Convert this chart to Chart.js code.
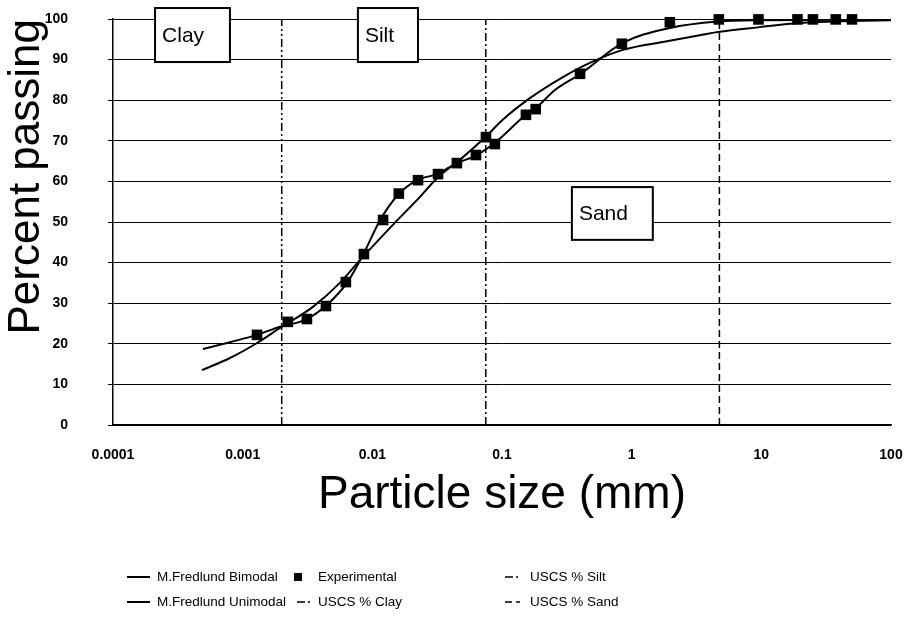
<!DOCTYPE html>
<html>
<head>
<meta charset="utf-8">
<title>Grain size distribution</title>
<script src="https://cdn.jsdelivr.net/npm/chart.js@4.4.1/dist/chart.umd.min.js"></script>
<style>
  html, body { margin: 0; padding: 0; background: #fff; }
  #wrap { position: relative; width: 909px; height: 630px; }
  #legend { position: absolute; left: 0; top: 0; width: 909px; height: 630px; pointer-events: none;
            font: 13.5px "Liberation Sans", Arial, sans-serif; color: #000; }
  .lg-sample { position: absolute; }
  .lg-text { position: absolute; white-space: nowrap; line-height: 16px; }
</style>
</head>
<body>
<div id="wrap">
  <canvas id="chart" width="909" height="630"></canvas>
  <div id="legend"></div>
</div>
<script>
// particle size (mm) and percent passing
const bimodalSize = [0.000494, 0.000798, 0.00129, 0.00194, 0.00313, 0.00447, 0.00637, 0.00847, 0.0115, 0.0158,
  0.0221, 0.0315, 0.0449, 0.064, 0.0881, 0.153, 0.182, 0.256, 0.413, 0.84, 1.97, 4.62, 9.73, 100];
const bimodalPass = [18.7, 20.4, 22.2, 24.2, 26.1, 29.6, 35.0, 41.9, 50.5, 56.7,
  60.3, 61.8, 64.5, 66.5, 69.5, 76.4, 78.0, 82.5, 86.7, 94.0, 97.8, 99.4, 99.7, 99.8];

const unimodalSize = [0.000485, 0.000798, 0.00129, 0.00194, 0.00348, 0.00562, 0.00802, 0.0144, 0.0233, 0.0315,
  0.0473, 0.0766, 0.0998, 0.164, 0.295, 0.476, 0.855, 1.87, 3.35, 4.62, 9.73, 19.8, 49.5, 100];
const unimodalPass = [13.5, 16.5, 20.2, 23.9, 29.1, 35.0, 40.6, 49.3, 56.2, 60.8,
  65.3, 71.3, 75.0, 80.5, 85.7, 89.2, 92.4, 94.5, 96.0, 96.8, 98.0, 99.0, 99.5, 99.7];

const expSize = [0.00129, 0.00223, 0.00313, 0.00439, 0.00625, 0.00861, 0.0121, 0.016, 0.0225, 0.0321,
  0.0449, 0.063, 0.0752, 0.0881, 0.153, 0.182, 0.40, 0.84, 1.97, 4.7, 9.5, 19, 25, 37.5, 50];
const expPass = [22.2, 25.4, 26.1, 29.3, 35.2, 42.1, 50.5, 57.0, 60.3, 61.8,
  64.5, 66.5, 70.9, 69.2, 76.4, 77.8, 86.5, 93.9, 99.2, 99.9, 99.9, 99.9, 99.9, 99.9, 99.9];

// USCS boundaries (mm)
const clayLimit = 0.002;
const siltLimit = 0.075;
const sandLimit = 4.75;

const xTickValues = [0.0001, 0.001, 0.01, 0.1, 1, 10, 100];
const xTickLabels = ['0.0001', '0.001', '0.01', '0.1', '1', '10', '100'];

const zoneNames = ['Clay', 'Silt', 'Sand'];

// zone label boxes, corners in axis units (mm, %)
const zoneBoxes = [
  { x0: 0.000211, x1: 0.000798, y0: 102.7, y1: 89.4 },
  { x0: 0.00774, x1: 0.0225, y0: 102.7, y1: 89.4 },
  { x0: 0.346, x1: 1.456, y0: 58.6, y1: 45.6 }
];

const FONT = '"Liberation Sans", Arial, sans-serif';

function pts(xs, ys) {
  return xs.map((x, i) => ({ x: x, y: ys[i] }));
}

function vline(x) {
  return [{ x: x, y: 0 }, { x: x, y: 100 }];
}

const zoneLabels = {
  id: 'zoneLabels',
  afterDraw(chart) {
    const { ctx, scales: { x, y } } = chart;
    ctx.save();
    zoneBoxes.forEach((b, i) => {
      const l = x.getPixelForValue(b.x0), r = x.getPixelForValue(b.x1);
      const t = y.getPixelForValue(b.y0), btm = y.getPixelForValue(b.y1);
      ctx.fillStyle = '#fff';
      ctx.fillRect(l, t, r - l, btm - t);
      ctx.strokeStyle = '#000';
      ctx.lineWidth = 2;
      ctx.strokeRect(l, t, r - l, btm - t);
      ctx.fillStyle = '#000';
      ctx.font = '21px ' + FONT;
      ctx.textAlign = 'left';
      ctx.textBaseline = 'middle';
      ctx.fillText(zoneNames[i], l + 7, (t + btm) / 2 + 1);
    });
    ctx.restore();
  }
};

const chart = new Chart(document.getElementById('chart'), {
  type: 'line',
  data: {
    datasets: [
      {
        label: 'Experimental',
        data: pts(expSize, expPass),
        showLine: false,
        pointStyle: 'rect',
        pointRadius: 7.5,
        backgroundColor: '#000',
        borderColor: '#000',
        pointBorderWidth: 0,
        clip: false
      },
      {
        label: 'M.Fredlund Bimodal',
        data: pts(bimodalSize, bimodalPass),
        borderColor: '#000',
        borderWidth: 2,
        pointRadius: 0,
        cubicInterpolationMode: 'monotone'
      },
      {
        label: 'M.Fredlund Unimodal',
        data: pts(unimodalSize, unimodalPass),
        borderColor: '#000',
        borderWidth: 2,
        pointRadius: 0,
        cubicInterpolationMode: 'monotone'
      },
      {
        label: 'USCS % Clay',
        data: vline(clayLimit),
        borderColor: '#000',
        borderWidth: 1.5,
        borderDash: [8, 3, 2, 3, 2, 3],
        pointRadius: 0
      },
      {
        label: 'USCS % Silt',
        data: vline(siltLimit),
        borderColor: '#000',
        borderWidth: 1.5,
        borderDash: [8, 3, 2, 3],
        pointRadius: 0
      },
      {
        label: 'USCS % Sand',
        data: vline(sandLimit),
        borderColor: '#000',
        borderWidth: 1.5,
        borderDash: [7, 4],
        pointRadius: 0
      }
    ]
  },
  options: {
    responsive: false,
    animation: false,
    events: [],
    layout: { padding: { top: 19, right: 18, bottom: 95, left: 0 } },
    plugins: {
      legend: { display: false },
      tooltip: { enabled: false }
    },
    scales: {
      x: {
        type: 'logarithmic',
        min: 0.0001,
        max: 100,
        afterBuildTicks(s) { s.ticks = xTickValues.map((v) => ({ value: v })); },
        afterFit(s) { s.height = 110; s.paddingLeft = 0; s.paddingRight = 0; },
        grid: { display: false, drawTicks: false },
        border: { color: '#000', width: 1.5 },
        ticks: {
          padding: 22,
          color: '#000',
          font: { family: FONT, size: 14, weight: 'bold' },
          maxRotation: 0,
          autoSkip: false,
          callback: (v) => xTickLabels[xTickValues.indexOf(v)] ?? ''
        },
        title: {
          display: true,
          text: 'Particle size (mm)',
          color: '#000',
          font: { family: FONT, size: 46 },
          padding: { top: 0, bottom: 12 }
        }
      },
      y: {
        min: 0,
        max: 100,
        afterFit(s) { s.width = 113; s.paddingTop = 0; s.paddingBottom = 0; },
        grid: { color: '#000', lineWidth: 1, tickLength: 5, tickColor: '#000' },
        border: { color: '#000', width: 1.5 },
        ticks: {
          stepSize: 10,
          padding: 40,
          color: '#000',
          font: { family: FONT, size: 14, weight: 'bold' }
        },
        title: {
          display: true,
          text: 'Percent passing',
          align: 'end',
          color: '#000',
          font: { family: FONT, size: 44, lineHeight: 1 },
          padding: { top: 5, bottom: 0 }
        }
      }
    }
  },
  plugins: [zoneLabels]
});

// legend, built from the chart's datasets
const legendGrid = [
  ['M.Fredlund Bimodal', 'Experimental', 'USCS % Silt'],
  ['M.Fredlund Unimodal', 'USCS % Clay', 'USCS % Sand']
];
const legendCols = [{ sx: 127, sw: 23, tx: 157 }, { sx: 297, sw: 15, tx: 318 }, { sx: 505, sw: 15, tx: 530 }];
const legendRows = [577, 602];

const legendEl = document.getElementById('legend');
legendGrid.forEach((row, r) => {
  row.forEach((name, c) => {
    const ds = chart.data.datasets.find((d) => d.label === name);
    const col = legendCols[c];
    const cy = legendRows[r];
    let svg;
    if (ds.showLine === false) {
      svg = `<svg class="lg-sample" style="left:${col.sx - 4}px;top:${cy - 5}px" width="10" height="10">
               <rect x="1" y="1" width="8" height="8" fill="#000"/></svg>`;
    } else {
      const dash = ds.borderDash ? ds.borderDash.join(',') : 'none';
      svg = `<svg class="lg-sample" style="left:${col.sx}px;top:${cy - 3}px" width="${col.sw}" height="6">
               <line x1="0" y1="3" x2="${col.sw}" y2="3" stroke="#000" stroke-width="${ds.borderWidth}"
                     stroke-dasharray="${dash}"/></svg>`;
    }
    legendEl.insertAdjacentHTML('beforeend', svg +
      `<div class="lg-text" style="left:${col.tx}px;top:${cy - 8}px">${name}</div>`);
  });
});
</script>
</body>
</html>
